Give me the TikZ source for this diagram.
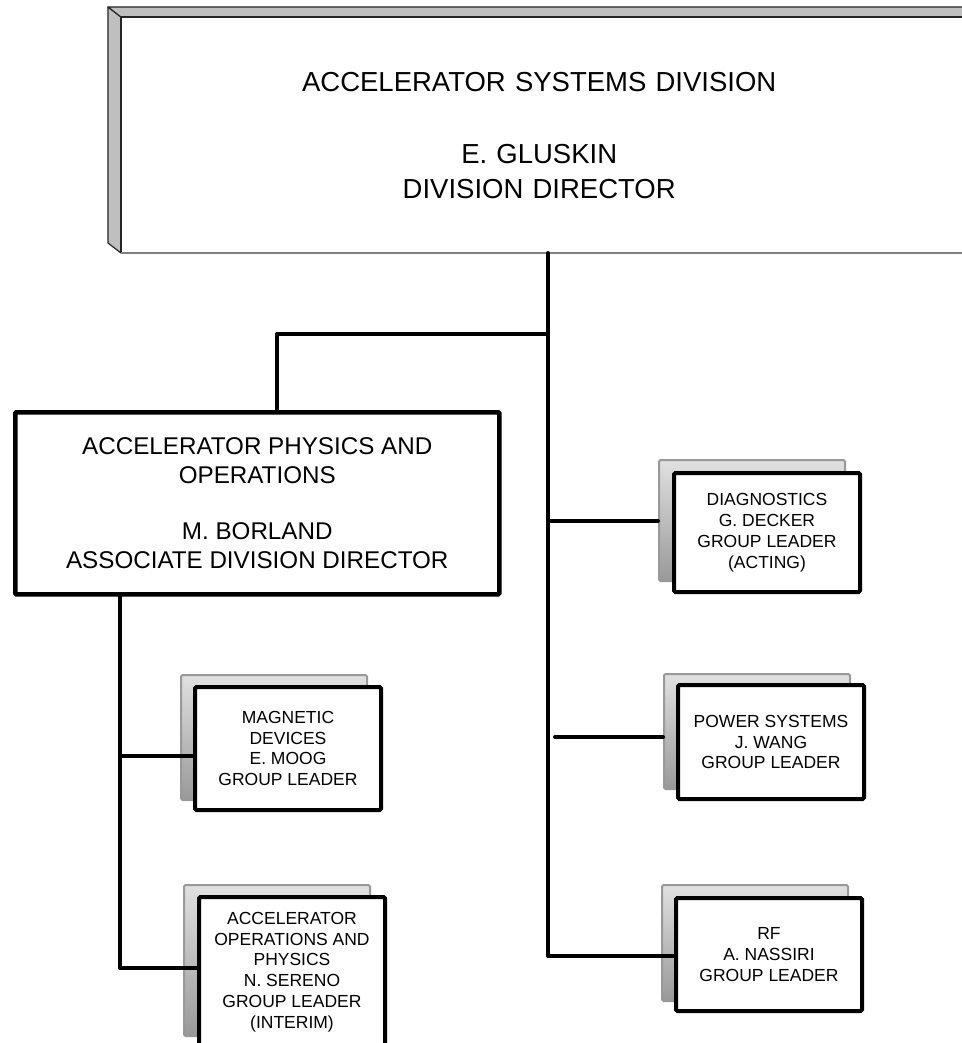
\documentclass[tikz,border=0pt]{standalone}
\usepackage{fontspec}
\setmainfont{Liberation Sans}
\begin{document}
\begin{tikzpicture}[x=1pt,y=-1pt,
  conn/.style={line width=4pt,line cap=round,line join=round},
  frontbox/.style={draw=black,fill=white,line width=4pt,rounded corners=1.5pt,inner sep=0pt,anchor=north west,align=center,font=\fontsize{17.5}{20.8}\selectfont,minimum width=186pt},
  shadowbox/.style={draw=black!40,line width=2pt,rounded corners=1.5pt,top color=black!12,bottom color=black!40,inner sep=0pt,anchor=north west,minimum width=186pt}
]
\useasboundingbox (0,0) rectangle (961,1043);
\fill[white] (0,0) rectangle (961,1043);

% top box with bevel
\filldraw[fill=black!25,draw=black!85,line width=1.2pt,line join=round] (108,7) -- (121,17) -- (121,253) -- (108,243) -- cycle;
\filldraw[fill=black!25,draw=black!85,line width=1.2pt,line join=round] (108,7) -- (970,7) -- (970,17) -- (121,17) -- cycle;
\fill[white] (121,17) rectangle (970,253);
\node[inner sep=0pt,anchor=north west,minimum width=836pt,minimum height=236pt,align=center,font=\fontsize{27.5}{35}\selectfont,text width=830pt] (top) at (121,17) {ACCELERATOR SYSTEMS DIVISION\\[37pt]E. GLUSKIN\\DIVISION DIRECTOR};
\draw[black!85,line width=1.2pt] (970,17) -- (121,17) -- (121,253);
\draw[black!50,line width=2pt] (121,253) -- (970,253);

% associate division box
\node[draw=black,fill=white,line width=4.5pt,rounded corners=1pt,inner sep=0pt,anchor=north west,minimum width=484pt,minimum height=182pt,align=center,font=\fontsize{24.2}{29}\selectfont] (ap) at (13,410) {ACCELERATOR PHYSICS AND\\OPERATIONS\\[27pt]M. BORLAND\\ASSOCIATE DIVISION DIRECTOR};

% group boxes: shadows
\node[shadowbox,minimum height=121pt] (diags) at (658,459) {};
\node[shadowbox,minimum height=115pt] (pws) at (663,673) {};
\node[shadowbox,minimum height=116pt] (rfs) at (661,884) {};
\node[shadowbox,minimum height=125pt] (mags) at (180,674) {};
\node[shadowbox,minimum height=151pt] (aops) at (183,884) {};

% group boxes: fronts
\node[frontbox,minimum height=119pt] (diag) at (672,471) {DIAGNOSTICS\\G. DECKER\\GROUP LEADER\\(ACTING)};
\node[frontbox,minimum height=114pt] (pw) at (676,683) {POWER SYSTEMS\\J. WANG\\GROUP LEADER};
\node[frontbox,minimum height=113pt] (rf) at (674,896) {RF\\A. NASSIRI\\GROUP LEADER};
\node[frontbox,minimum height=123pt] (mag) at (193,685) {MAGNETIC\\DEVICES\\E. MOOG\\GROUP LEADER};
\node[frontbox,minimum height=150pt] (aop) at (197,895) {ACCELERATOR\\OPERATIONS AND\\PHYSICS\\N. SERENO\\GROUP LEADER\\(INTERIM)};

% connectors
\coordinate (spine) at (548,956);
\coordinate (apj) at (548,334);
\coordinate (apx) at (277,334);
\coordinate (pwj) at (555,737);
\coordinate (lsp) at (120,968);
\coordinate (magj) at (120,756);
\coordinate (diagj) at (548,521);
\coordinate (topj) at (548,253);

\draw[conn] (topj) -- (spine) -- (rf.west |- spine);
\draw[conn] (apj) -- (apx) -- (ap.north -| apx);
\draw[conn] (diagj) -- (diags.west |- diagj);
\draw[conn] (pwj) -- (pws.west |- pwj);
\draw[conn] (ap.south -| lsp) -- (lsp) -- (aop.west |- lsp);
\draw[conn] (magj) -- (mag.west |- magj);
\end{tikzpicture}
\end{document}
